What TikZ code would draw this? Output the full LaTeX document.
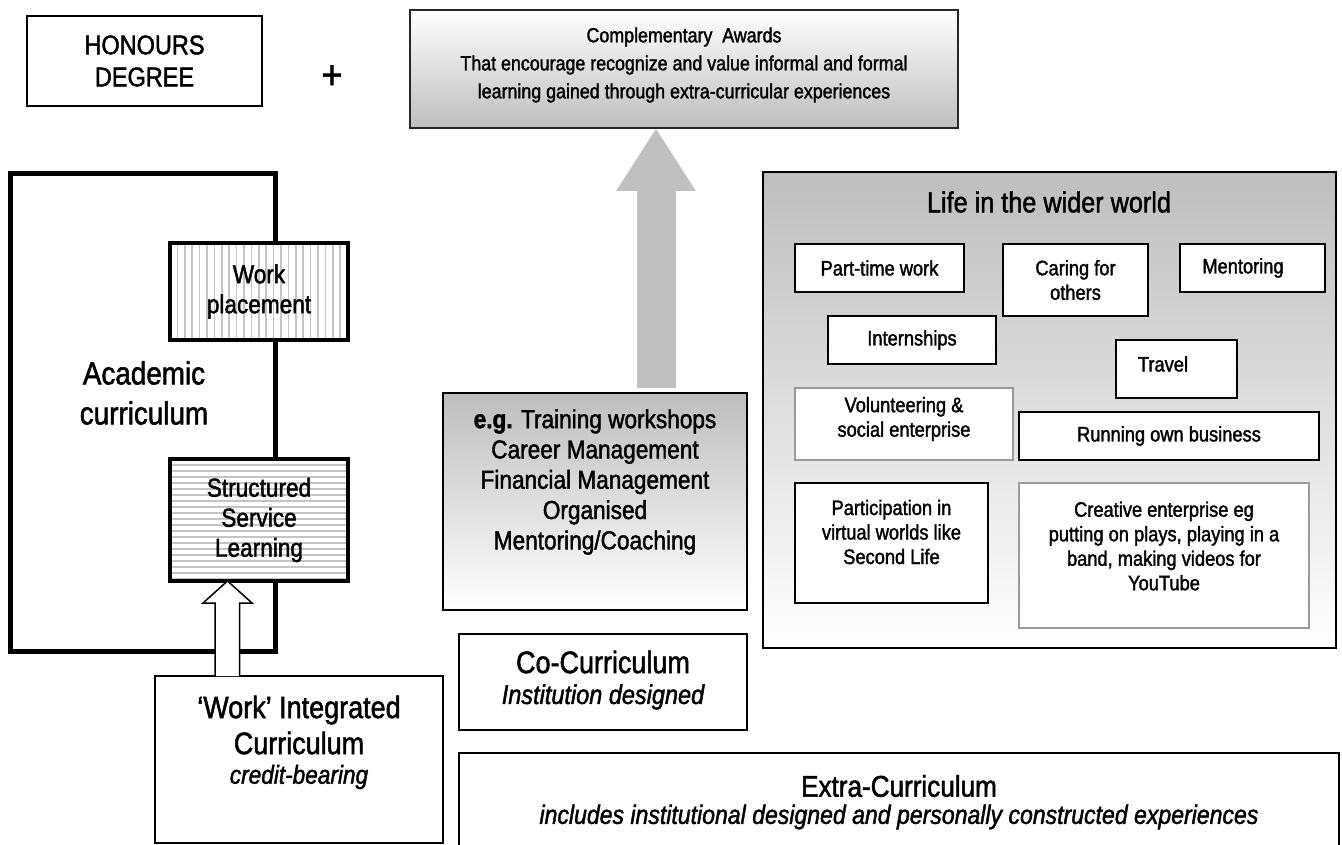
\documentclass[tikz,border=0pt]{standalone}
\usepackage{fontspec}
\setmainfont{Liberation Sans}[FakeStretch=0.87,FakeBold=1.6]
\usetikzlibrary{arrows.meta,calc}
\definecolor{arrowgray}{HTML}{C0C0C0}
\definecolor{shadegray}{HTML}{BEBEBE}
\definecolor{hatchgray}{HTML}{C4C4C4}
\definecolor{softborder}{HTML}{9A9A9A}
\newcommand\fsz[2]{\fontsize{#1pt}{#2pt}\selectfont}
\begin{document}
\begin{tikzpicture}[x=1pt,y=-1pt,
  every node/.style={inner sep=0pt, outer sep=0pt, align=center},
  plainbox/.style={draw, line width=1.6pt, fill=white},
  thinbox/.style={draw, line width=1.4pt, fill=white},
  innerbox/.style={draw, line width=2pt, fill=white, font=\fsz{21}{24.5}},
  softbox/.style={draw=softborder, line width=1.6pt, fill=white, font=\fsz{21}{24.5}},
  innertext/.style={font=\fsz{21}{24.5}},
  hatchbox/.style={draw, line width=4pt, fill=white, font=\fsz{26}{30}},
  framebox/.style={draw, line width=5pt},
  shadebox/.style={draw, line width=1.6pt, top color=shadegray, bottom color=white},
  bigarrow/.style={draw=arrowgray, line width=39pt, -{Triangle[length=63pt,width=75pt]}},
  hollowarrow/.style={draw, line width=1.5pt, fill=white},
]
\useasboundingbox (0,0) rectangle (1342,845);

% top row
\node[plainbox, minimum width=235pt, minimum height=90pt, font=\fsz{27}{32}] (hon) at (144.5,61) {HONOURS\\DEGREE};
\node[font=\fsz{40}{40}] (plus) at (332,77) {+};
\node[draw=black!85, line width=1.6pt, top color=white, bottom color=shadegray,
      minimum width=548pt, minimum height=118pt] (compl) at (684,69) {};
\node[font=\fsz{20.5}{28}] (compltxt) at (684,65) {Complementary\ \ Awards\\That encourage recognize and value informal and formal\\learning gained through extra-curricular experiences};

% academic curriculum frame
\node[framebox, minimum width=265pt, minimum height=478pt] (acad) at (143,412.5) {};
\node[font=\fsz{32}{40}] (acadlbl) at (144,393) {Academic\\curriculum};

\node[hatchbox, minimum width=178pt, minimum height=97pt,
  path picture={\foreach \i in {1,...,24}{\draw[hatchgray, line width=1.6pt]
     ($(path picture bounding box.north west)+(\i*7.4,0)$) -- ($(path picture bounding box.south west)+(\i*7.4,0)$);}}]
  (wp) at (259,291.5) {Work\\placement};
\node[hatchbox, minimum width=178pt, minimum height=122pt,
  path picture={\foreach \i in {1,...,21}{\draw[hatchgray, line width=1.6pt]
     ($(path picture bounding box.north west)+(0,\i*6)$) -- ($(path picture bounding box.north east)+(0,\i*6)$);}}]
  (ssl) at (259,520) {Structured\\Service\\Learning};

% work integrated curriculum
\node[thinbox, minimum width=288pt, minimum height=167pt] (wi) at (299,759.5) {};
\node[font=\fsz{31}{36}] (witxt) at (299,725) {‘Work’ Integrated\\Curriculum};
\node[font=\fsz{26}{30}\itshape] (wisub) at (299,777) {credit-bearing};

\draw[hollowarrow] ($(wi.north)+(-84,0)$) -- ($(ssl.south)+(-44,22)$) -- ($(ssl.south)+(-56,22)$)
  -- ($(ssl.south)+(-31.5,0)$) -- ($(ssl.south)+(-7,22)$) -- ($(ssl.south)+(-19.5,22)$) -- ($(wi.north)+(-59.5,0)$);

% co-curriculum training box and arrow
\node[shadebox, minimum width=304pt, minimum height=217pt] (train) at (595,501.5) {};
\node[font=\fsz{26}{30.3}] (traintxt) at (595,482) {\textbf{e.g.} Training workshops\\Career Management\\Financial Management\\Organised\\Mentoring/Coaching};
\coordinate (arrowfoot) at (656,388);
\draw[bigarrow] (arrowfoot) -- (arrowfoot |- compl.south);

% life in the wider world
\node[shadebox, minimum width=573pt, minimum height=476pt] (life) at (1049.5,410) {};
\node[font=\fsz{29}{34}] (lifetitle) at (1049,202) {Life in the wider world};

\node[innerbox, minimum width=169pt, minimum height=48pt] (pt) at (879.5,268) {Part-time work};
\node[innerbox, minimum width=145pt, minimum height=72pt] (care) at (1075.5,280) {Caring for\\others};
\node[innerbox, minimum width=145pt, minimum height=48pt] (ment) at (1252.5,268) {};
\node[innertext] (menttxt) at (1243,268) {Mentoring};
\node[innerbox, minimum width=168pt, minimum height=48pt] (intern) at (912,340) {Internships};
\node[innerbox, minimum width=121pt, minimum height=58pt] (travel) at (1176.5,369) {};
\node[innertext] (traveltxt) at (1163,364) {Travel};
\node[softbox, minimum width=218pt, minimum height=72pt] (vol) at (904,424) {};
\node[innertext] (voltxt) at (904,419) {Volunteering \&\\social enterprise};
\node[innerbox, minimum width=300pt, minimum height=48pt] (run) at (1169,436) {Running own business};
\node[innerbox, minimum width=193pt, minimum height=120pt] (part) at (891.5,543) {};
\node[innertext] (parttxt) at (891.5,532) {Participation in\\virtual worlds like\\Second Life};
\node[softbox, minimum width=290pt, minimum height=145pt] (creat) at (1164,555.5) {};
\node[innertext] (creattxt) at (1164,546) {Creative enterprise eg\\putting on plays, playing in a\\band, making videos for\\YouTube};

% bottom boxes
\node[thinbox, minimum width=288pt, minimum height=96pt] (cocur) at (603,682) {};
\node[font=\fsz{31}{36}] (cocurtxt) at (603,662) {Co-Curriculum};
\node[font=\fsz{27}{32}\itshape] (cocursub) at (603,697) {Institution designed};

\node[thinbox, minimum width=880pt, minimum height=110pt] (extra) at (899,808) {};
\node[font=\fsz{30}{35}] (extratxt) at (899,786) {Extra-Curriculum};
\node[font=\fsz{26.5}{31}\itshape] (extrasub) at (899,817) {includes institutional designed and personally constructed experiences};
\end{tikzpicture}
\end{document}
